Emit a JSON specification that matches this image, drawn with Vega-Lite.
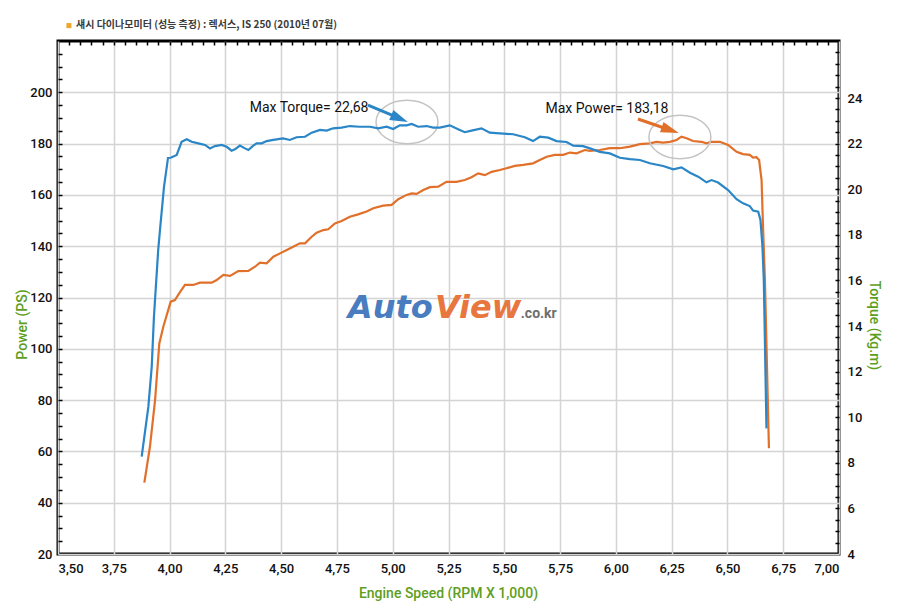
{
  "$schema": "https://vega.github.io/schema/vega-lite/v6.json",
  "width": 781,
  "height": 513,
  "autosize": {"type": "none"},
  "padding": {"left": 58, "top": 41, "right": 61, "bottom": 58},
  "background": "white",
  "config": {
    "view": {"stroke": "black", "strokeWidth": 3},
    "axis": {
      "labelFont": "Roboto",
      "labelFontSize": 13,
      "labelFontWeight": 500,
      "labelColor": "#111111",
      "titleFont": "Roboto",
      "titleFontSize": 14,
      "titleFontWeight": 500,
      "titleColor": "#5e9e1e",
      "domain": false,
      "tickColor": "black",
      "tickWidth": 1.5
    }
  },
  "title": {
    "text": "섀시 다이나모미터 (성능 측정) : 렉서스, IS 250 (2010년 07월)",
    "anchor": "start",
    "frame": "group",
    "dx": 18,
    "offset": -17,
    "baseline": "bottom",
    "font": "Noto Sans CJK KR",
    "fontSize": 10,
    "fontWeight": "bold",
    "color": "#3a3a3a"
  },
  "datasets": {
    "power": [
      {"rpm": 3.887, "ps": 47.8}, {"rpm": 3.912, "ps": 61.8}, {"rpm": 3.935, "ps": 80.0}, {"rpm": 3.954, "ps": 102.1},
      {"rpm": 3.972, "ps": 108.6}, {"rpm": 4.005, "ps": 118.4}, {"rpm": 4.024, "ps": 119.0}, {"rpm": 4.043, "ps": 121.6},
      {"rpm": 4.069, "ps": 124.9}, {"rpm": 4.106, "ps": 124.9}, {"rpm": 4.136, "ps": 125.8}, {"rpm": 4.189, "ps": 125.8},
      {"rpm": 4.211, "ps": 126.8}, {"rpm": 4.241, "ps": 128.8}, {"rpm": 4.271, "ps": 128.4}, {"rpm": 4.308, "ps": 130.3},
      {"rpm": 4.353, "ps": 130.4}, {"rpm": 4.383, "ps": 132.0}, {"rpm": 4.405, "ps": 133.6}, {"rpm": 4.435, "ps": 133.3},
      {"rpm": 4.465, "ps": 135.9}, {"rpm": 4.495, "ps": 137.2}, {"rpm": 4.525, "ps": 138.5}, {"rpm": 4.554, "ps": 139.8},
      {"rpm": 4.584, "ps": 141.1}, {"rpm": 4.607, "ps": 141.1}, {"rpm": 4.637, "ps": 143.7}, {"rpm": 4.659, "ps": 145.3},
      {"rpm": 4.689, "ps": 146.3}, {"rpm": 4.711, "ps": 146.6}, {"rpm": 4.741, "ps": 148.9}, {"rpm": 4.771, "ps": 149.8},
      {"rpm": 4.808, "ps": 151.5}, {"rpm": 4.845, "ps": 152.4}, {"rpm": 4.883, "ps": 153.5}, {"rpm": 4.913, "ps": 154.8},
      {"rpm": 4.957, "ps": 155.8}, {"rpm": 4.995, "ps": 156.1}, {"rpm": 5.025, "ps": 158.3}, {"rpm": 5.062, "ps": 160.0},
      {"rpm": 5.085, "ps": 160.6}, {"rpm": 5.107, "ps": 160.4}, {"rpm": 5.137, "ps": 161.9}, {"rpm": 5.167, "ps": 163.0},
      {"rpm": 5.204, "ps": 163.2}, {"rpm": 5.241, "ps": 165.1}, {"rpm": 5.286, "ps": 165.1}, {"rpm": 5.323, "ps": 165.8},
      {"rpm": 5.353, "ps": 166.9}, {"rpm": 5.383, "ps": 168.4}, {"rpm": 5.413, "ps": 167.7}, {"rpm": 5.443, "ps": 169.0},
      {"rpm": 5.480, "ps": 169.7}, {"rpm": 5.510, "ps": 170.4}, {"rpm": 5.547, "ps": 171.3}, {"rpm": 5.585, "ps": 171.7},
      {"rpm": 5.629, "ps": 172.3}, {"rpm": 5.659, "ps": 173.6}, {"rpm": 5.690, "ps": 174.9}, {"rpm": 5.727, "ps": 175.6},
      {"rpm": 5.764, "ps": 175.6}, {"rpm": 5.794, "ps": 176.5}, {"rpm": 5.824, "ps": 176.2}, {"rpm": 5.861, "ps": 177.5},
      {"rpm": 5.884, "ps": 177.2}, {"rpm": 5.928, "ps": 177.5}, {"rpm": 5.973, "ps": 178.2}, {"rpm": 6.018, "ps": 178.2},
      {"rpm": 6.063, "ps": 178.8}, {"rpm": 6.108, "ps": 179.8}, {"rpm": 6.152, "ps": 180.1}, {"rpm": 6.182, "ps": 180.7},
      {"rpm": 6.212, "ps": 180.4}, {"rpm": 6.242, "ps": 180.7}, {"rpm": 6.272, "ps": 181.4}, {"rpm": 6.294, "ps": 182.7},
      {"rpm": 6.317, "ps": 182.1}, {"rpm": 6.346, "ps": 181.0}, {"rpm": 6.384, "ps": 180.7}, {"rpm": 6.406, "ps": 180.1},
      {"rpm": 6.429, "ps": 180.7}, {"rpm": 6.466, "ps": 180.7}, {"rpm": 6.503, "ps": 179.5}, {"rpm": 6.541, "ps": 176.8},
      {"rpm": 6.570, "ps": 175.9}, {"rpm": 6.600, "ps": 175.6}, {"rpm": 6.615, "ps": 174.5}, {"rpm": 6.630, "ps": 174.7},
      {"rpm": 6.642, "ps": 173.6}, {"rpm": 6.653, "ps": 165.8}, {"rpm": 6.660, "ps": 146.3}, {"rpm": 6.668, "ps": 126.8},
      {"rpm": 6.686, "ps": 61.2}
    ],
    "torque": [
      {"rpm": 3.875, "kgm": 8.27}, {"rpm": 3.905, "kgm": 10.46}, {"rpm": 3.920, "kgm": 12.21}, {"rpm": 3.930, "kgm": 14.41},
      {"rpm": 3.949, "kgm": 17.33}, {"rpm": 3.957, "kgm": 18.21}, {"rpm": 3.975, "kgm": 20.10}, {"rpm": 3.993, "kgm": 21.37},
      {"rpm": 4.005, "kgm": 21.38}, {"rpm": 4.032, "kgm": 21.50}, {"rpm": 4.054, "kgm": 22.08}, {"rpm": 4.077, "kgm": 22.19},
      {"rpm": 4.099, "kgm": 22.08}, {"rpm": 4.129, "kgm": 22.01}, {"rpm": 4.159, "kgm": 21.94}, {"rpm": 4.181, "kgm": 21.79},
      {"rpm": 4.203, "kgm": 21.89}, {"rpm": 4.233, "kgm": 21.94}, {"rpm": 4.256, "kgm": 21.86}, {"rpm": 4.278, "kgm": 21.69},
      {"rpm": 4.293, "kgm": 21.75}, {"rpm": 4.315, "kgm": 21.91}, {"rpm": 4.338, "kgm": 21.79}, {"rpm": 4.353, "kgm": 21.72},
      {"rpm": 4.375, "kgm": 21.91}, {"rpm": 4.390, "kgm": 22.01}, {"rpm": 4.413, "kgm": 22.01}, {"rpm": 4.435, "kgm": 22.11},
      {"rpm": 4.465, "kgm": 22.16}, {"rpm": 4.509, "kgm": 22.23}, {"rpm": 4.539, "kgm": 22.16}, {"rpm": 4.569, "kgm": 22.28},
      {"rpm": 4.607, "kgm": 22.30}, {"rpm": 4.637, "kgm": 22.48}, {"rpm": 4.674, "kgm": 22.60}, {"rpm": 4.704, "kgm": 22.57},
      {"rpm": 4.733, "kgm": 22.67}, {"rpm": 4.771, "kgm": 22.70}, {"rpm": 4.808, "kgm": 22.77}, {"rpm": 4.853, "kgm": 22.74},
      {"rpm": 4.898, "kgm": 22.74}, {"rpm": 4.935, "kgm": 22.67}, {"rpm": 4.973, "kgm": 22.74}, {"rpm": 5.002, "kgm": 22.64},
      {"rpm": 5.032, "kgm": 22.80}, {"rpm": 5.062, "kgm": 22.80}, {"rpm": 5.085, "kgm": 22.86}, {"rpm": 5.114, "kgm": 22.74},
      {"rpm": 5.152, "kgm": 22.77}, {"rpm": 5.181, "kgm": 22.70}, {"rpm": 5.211, "kgm": 22.70}, {"rpm": 5.256, "kgm": 22.80},
      {"rpm": 5.293, "kgm": 22.63}, {"rpm": 5.323, "kgm": 22.50}, {"rpm": 5.353, "kgm": 22.57}, {"rpm": 5.398, "kgm": 22.67},
      {"rpm": 5.435, "kgm": 22.48}, {"rpm": 5.480, "kgm": 22.45}, {"rpm": 5.540, "kgm": 22.41}, {"rpm": 5.592, "kgm": 22.28},
      {"rpm": 5.629, "kgm": 22.11}, {"rpm": 5.659, "kgm": 22.30}, {"rpm": 5.697, "kgm": 22.26}, {"rpm": 5.734, "kgm": 22.11},
      {"rpm": 5.779, "kgm": 22.07}, {"rpm": 5.809, "kgm": 21.91}, {"rpm": 5.853, "kgm": 21.89}, {"rpm": 5.884, "kgm": 21.79},
      {"rpm": 5.928, "kgm": 21.64}, {"rpm": 5.973, "kgm": 21.57}, {"rpm": 6.018, "kgm": 21.38}, {"rpm": 6.063, "kgm": 21.32},
      {"rpm": 6.108, "kgm": 21.28}, {"rpm": 6.152, "kgm": 21.14}, {"rpm": 6.212, "kgm": 21.02}, {"rpm": 6.257, "kgm": 20.87},
      {"rpm": 6.294, "kgm": 20.96}, {"rpm": 6.332, "kgm": 20.72}, {"rpm": 6.369, "kgm": 20.55}, {"rpm": 6.406, "kgm": 20.30},
      {"rpm": 6.429, "kgm": 20.40}, {"rpm": 6.458, "kgm": 20.29}, {"rpm": 6.503, "kgm": 19.96}, {"rpm": 6.541, "kgm": 19.56},
      {"rpm": 6.570, "kgm": 19.38}, {"rpm": 6.600, "kgm": 19.26}, {"rpm": 6.615, "kgm": 19.06}, {"rpm": 6.638, "kgm": 19.01},
      {"rpm": 6.648, "kgm": 18.65}, {"rpm": 6.657, "kgm": 17.48}, {"rpm": 6.663, "kgm": 16.02}, {"rpm": 6.675, "kgm": 9.51}
    ],
    "rings": [
      {"rpm": 5.064, "ps": 188.4},
      {"rpm": 6.287, "ps": 182.6}
    ],
    "arrows": [
      {"series": "torque", "rpm": 4.889, "ps": 195.0},
      {"series": "torque", "rpm": 5.010, "ps": 190.6},
      {"series": "power", "rpm": 6.099, "ps": 189.6},
      {"series": "power", "rpm": 6.223, "ps": 185.9}
    ],
    "heads": [
      {"series": "torque", "rpm": 5.068, "ps": 188.4},
      {"series": "power", "rpm": 6.282, "ps": 184.1}
    ],
    "labels": [
      {"text": "Max Torque= 22,68", "rpm": 4.625, "ps": 193.9},
      {"text": "Max Power= 183,18", "rpm": 5.960, "ps": 193.5}
    ],
    "logo": [
      {"part": "auto", "text": "Auto", "rpm": 4.799, "ps": 112.0},
      {"part": "view", "text": "View", "rpm": 5.189, "ps": 112.0},
      {"part": "site", "text": ".co.kr", "rpm": 5.574, "ps": 112.0}
    ],
    "bullet": [
      {"rpm": 3.549, "ps": 226.0}
    ]
  },
  "layer": [
    {
      "layer": [
        {
          "data": {"name": "power"},
          "mark": {"type": "line", "color": "#e0702a", "strokeWidth": 2.2},
          "encoding": {
            "x": {
              "field": "rpm",
              "type": "quantitative",
              "scale": {"domain": [3.5, 7]},
              "axis": {
                "values": [3.5, 3.75, 4, 4.25, 4.5, 4.75, 5, 5.25, 5.5, 5.75, 6, 6.25, 6.5, 6.75, 7],
                "labelExpr": "replace(format(datum.value, '.2f'), '.', ',')",
                "ticks": false,
                "tickSize": 0,
                "labelPadding": 8,
                "grid": true,
                "gridColor": "#d4d4d4",
                "gridWidth": 1.5,
                "title": "Engine Speed (RPM X 1,000)",
                "titleX": 390,
                "titleY": 39,
                "titleAlign": "center",
                "titleBaseline": "middle"
              }
            },
            "y": {
              "field": "ps",
              "type": "quantitative",
              "scale": {"domain": [20, 220]},
              "axis": {
                "values": [20, 40, 60, 80, 100, 120, 140, 160, 180, 200],
                "ticks": false,
                "tickSize": 0,
                "labelPadding": 6,
                "grid": true,
                "gridColor": "#d4d4d4",
                "gridWidth": 1.5,
                "title": "Power (PS)",
                "titleAngle": -90,
                "titleX": -36,
                "titleY": 283,
                "titleAlign": "center",
                "titleBaseline": "middle"
              }
            }
          }
        },
        {
          "data": {"name": "rings"},
          "mark": {"type": "point", "shape": "M-1,0A1,0.7 0 1,0 1,0A1,0.7 0 1,0 -1,0", "size": 3844, "filled": false, "color": "#c4c4c4", "strokeWidth": 1.5, "opacity": 1},
          "encoding": {
            "x": {"field": "rpm", "type": "quantitative"},
            "y": {"field": "ps", "type": "quantitative"}
          }
        },
        {
          "data": {"name": "arrows"},
          "transform": [{"filter": "datum.series == 'torque'"}],
          "mark": {"type": "line", "color": "#2a86c6", "strokeWidth": 3},
          "encoding": {
            "x": {"field": "rpm", "type": "quantitative"},
            "y": {"field": "ps", "type": "quantitative"}
          }
        },
        {
          "data": {"name": "arrows"},
          "transform": [{"filter": "datum.series == 'power'"}],
          "mark": {"type": "line", "color": "#e0702a", "strokeWidth": 3},
          "encoding": {
            "x": {"field": "rpm", "type": "quantitative"},
            "y": {"field": "ps", "type": "quantitative"}
          }
        },
        {
          "data": {"name": "heads"},
          "transform": [{"filter": "datum.series == 'torque'"}],
          "mark": {"type": "point", "shape": "M0,0L-2,-0.6L-2,0.6Z", "size": 324, "filled": true, "color": "#2a86c6", "opacity": 1, "angle": 23},
          "encoding": {
            "x": {"field": "rpm", "type": "quantitative"},
            "y": {"field": "ps", "type": "quantitative"}
          }
        },
        {
          "data": {"name": "heads"},
          "transform": [{"filter": "datum.series == 'power'"}],
          "mark": {"type": "point", "shape": "M0,0L-2,-0.6L-2,0.6Z", "size": 324, "filled": true, "color": "#e0702a", "opacity": 1, "angle": 19},
          "encoding": {
            "x": {"field": "rpm", "type": "quantitative"},
            "y": {"field": "ps", "type": "quantitative"}
          }
        },
        {
          "data": {"name": "labels"},
          "mark": {"type": "text", "font": "Roboto", "fontSize": 14, "color": "#111111", "align": "center", "baseline": "middle"},
          "encoding": {
            "x": {"field": "rpm", "type": "quantitative"},
            "y": {"field": "ps", "type": "quantitative"},
            "text": {"field": "text"}
          }
        },
        {
          "data": {"name": "logo"},
          "transform": [{"filter": "datum.part == 'auto'"}],
          "mark": {"type": "text", "font": "DejaVu Sans", "fontSize": 32, "fontWeight": "bold", "fontStyle": "italic", "color": "#4a7cc0", "align": "left", "baseline": "alphabetic"},
          "encoding": {
            "x": {"field": "rpm", "type": "quantitative"},
            "y": {"field": "ps", "type": "quantitative"},
            "text": {"field": "text"}
          }
        },
        {
          "data": {"name": "logo"},
          "transform": [{"filter": "datum.part == 'view'"}],
          "mark": {"type": "text", "font": "DejaVu Sans", "fontSize": 32, "fontWeight": "bold", "fontStyle": "italic", "color": "#e8763f", "align": "left", "baseline": "alphabetic"},
          "encoding": {
            "x": {"field": "rpm", "type": "quantitative"},
            "y": {"field": "ps", "type": "quantitative"},
            "text": {"field": "text"}
          }
        },
        {
          "data": {"name": "logo"},
          "transform": [{"filter": "datum.part == 'site'"}],
          "mark": {"type": "text", "font": "Roboto", "fontSize": 14, "fontWeight": "bold", "color": "#6e6e6e", "align": "left", "baseline": "alphabetic"},
          "encoding": {
            "x": {"field": "rpm", "type": "quantitative"},
            "y": {"field": "ps", "type": "quantitative"},
            "text": {"field": "text"}
          }
        },
        {
          "data": {"name": "bullet"},
          "mark": {"type": "point", "shape": "square", "size": 25, "filled": true, "color": "#f0a428", "opacity": 1},
          "encoding": {
            "x": {"field": "rpm", "type": "quantitative"},
            "y": {"field": "ps", "type": "quantitative"}
          }
        }
      ]
    },
    {
      "data": {"name": "torque"},
      "mark": {"type": "line", "color": "#2a86c6", "strokeWidth": 2.2},
      "encoding": {
        "x": {"field": "rpm", "type": "quantitative", "scale": {"domain": [3.5, 7]}, "axis": null},
        "y": {
          "field": "kgm",
          "type": "quantitative",
          "scale": {"domain": [4, 26.5]},
          "axis": {
            "orient": "right",
            "values": [4, 6, 8, 10, 12, 14, 16, 18, 20, 22, 24],
            "ticks": false,
            "tickSize": 0,
            "labelPadding": 8,
            "grid": false,
            "title": "Torque (Kg.m)",
            "titleAngle": 90,
            "titleX": 34,
            "titleY": 284,
            "titleAlign": "center",
            "titleBaseline": "middle"
          }
        }
      }
    },
    {
      "data": {"name": "power"},
      "mark": {"type": "line", "opacity": 0},
      "encoding": {
        "x": {
          "field": "rpm",
          "type": "quantitative",
          "scale": {"domain": [3.5, 7]},
          "axis": {
            "values": [3.55, 3.6, 3.65, 3.7, 3.75, 3.8, 3.85, 3.9, 3.95, 4, 4.05, 4.1, 4.15, 4.2, 4.25, 4.3, 4.35, 4.4, 4.45, 4.5, 4.55, 4.6, 4.65, 4.7, 4.75, 4.8, 4.85, 4.9, 4.95, 5, 5.05, 5.1, 5.15, 5.2, 5.25, 5.3, 5.35, 5.4, 5.45, 5.5, 5.55, 5.6, 5.65, 5.7, 5.75, 5.8, 5.85, 5.9, 5.95, 6, 6.05, 6.1, 6.15, 6.2, 6.25, 6.3, 6.35, 6.4, 6.45, 6.5, 6.55, 6.6, 6.65, 6.7, 6.75, 6.8, 6.85, 6.9, 6.95],
            "labels": false,
            "grid": false,
            "tickSize": -4,
            "title": null
          }
        },
        "y": {
          "field": "ps",
          "type": "quantitative",
          "scale": {"domain": [20, 220]},
          "axis": {
            "orient": "left",
            "values": [25, 30, 35, 40, 45, 50, 55, 60, 65, 70, 75, 80, 85, 90, 95, 100, 105, 110, 115, 120, 125, 130, 135, 140, 145, 150, 155, 160, 165, 170, 175, 180, 185, 190, 195, 200, 205, 210, 215],
            "labels": false,
            "grid": false,
            "tickSize": -4,
            "title": null
          }
        }
      }
    },
    {
      "data": {"name": "torque"},
      "mark": {"type": "line", "opacity": 0},
      "encoding": {
        "x": {"field": "rpm", "type": "quantitative", "scale": {"domain": [3.5, 7]}, "axis": null},
        "y": {
          "field": "kgm",
          "type": "quantitative",
          "scale": {"domain": [4, 26.5]},
          "axis": {
            "orient": "right",
            "values": [4.5, 5, 5.5, 6, 6.5, 7, 7.5, 8, 8.5, 9, 9.5, 10, 10.5, 11, 11.5, 12, 12.5, 13, 13.5, 14, 14.5, 15, 15.5, 16, 16.5, 17, 17.5, 18, 18.5, 19, 19.5, 20, 20.5, 21, 21.5, 22, 22.5, 23, 23.5, 24, 24.5, 25, 25.5, 26],
            "labels": false,
            "grid": false,
            "tickSize": -4,
            "title": null
          }
        }
      }
    }
  ],
  "resolve": {"scale": {"x": "independent", "y": "independent"}}
}
